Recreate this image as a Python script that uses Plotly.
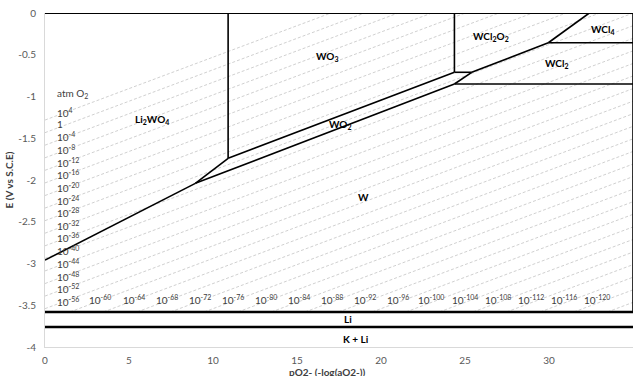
import plotly.graph_objects as go

# ---------------- data ----------------
# phase boundaries: x = pO2- , E = potential (V vs SCE)
li2wo4_w_x = [0, 8.95]
li2wo4_w_e = [-2.96, -2.04]
li2wo4_wo2_x = [8.95, 10.9]
li2wo4_wo2_e = [-2.04, -1.74]
li2wo4_wo3_x = [10.9, 10.9]
li2wo4_wo3_e = [-1.74, 0.0]
wo3_wo2_x = [10.9, 24.37]
wo3_wo2_e = [-1.74, -0.71]
wo2_w_x = [8.95, 24.37]
wo2_w_e = [-2.04, -0.85]
wo3_wcl2o2_x = [24.37, 24.37]
wo3_wcl2o2_e = [-0.71, 0.0]
wo2_wcl2_x = [24.37, 25.4]
wo2_wcl2_e = [-0.85, -0.71]
wo2_wcl2o2_x = [24.37, 25.4]
wo2_wcl2o2_e = [-0.71, -0.71]
wcl2o2_wcl2_x = [25.4, 29.96]
wcl2o2_wcl2_e = [-0.71, -0.356]
wcl2o2_wcl4_x = [29.96, 32.4]
wcl2o2_wcl4_e = [-0.356, 0.0]
wcl4_wcl2_x = [29.96, 35]
wcl4_wcl2_e = [-0.356, -0.356]
wcl2_w_x = [24.37, 35]
wcl2_w_e = [-0.85, -0.85]
top_x = [0, 35]
top_e = [0.0, 0.0]
right_x = [35, 35]
right_e = [0.0, -3.58]

li_limit_e = -3.58
kli_limit_e = -3.76
limits_x = [0, 35]

# oxygen isobars: potential at pO2- = 0 and common slope (V per pO2- unit)
isobar_e0 = [-1.282, -1.433, -1.583, -1.734, -1.884, -2.035, -2.186, -2.336,
             -2.487, -2.637, -2.788, -2.939, -3.089, -3.240, -3.390, -3.541,
             -3.692, -3.842, -3.993, -4.143, -4.294, -4.445, -4.595, -4.746,
             -4.896, -5.047, -5.198, -5.348, -5.499, -5.649, -5.800, -5.951,
             -6.101]
isobar_slope = 0.0753

left_iso_labels = ["10<sup>4</sup>", "1", "10<sup>-4</sup>", "10<sup>-8</sup>",
                   "10<sup>-12</sup>", "10<sup>-16</sup>", "10<sup>-20</sup>",
                   "10<sup>-24</sup>", "10<sup>-28</sup>", "10<sup>-32</sup>",
                   "10<sup>-36</sup>", "10<sup>-40</sup>", "10<sup>-44</sup>",
                   "10<sup>-48</sup>", "10<sup>-52</sup>", "10<sup>-56</sup>"]
left_iso_label_e = [-1.19, -1.33, -1.48, -1.64, -1.79, -1.94, -2.09, -2.24,
                    -2.39, -2.54, -2.69, -2.84, -3.00, -3.15, -3.30, -3.45]
left_iso_label_x = 0.62

bottom_iso_labels = ["10<sup>-60</sup>", "10<sup>-64</sup>", "10<sup>-68</sup>",
                     "10<sup>-72</sup>", "10<sup>-76</sup>", "10<sup>-80</sup>",
                     "10<sup>-84</sup>", "10<sup>-88</sup>", "10<sup>-92</sup>",
                     "10<sup>-96</sup>", "10<sup>-100</sup>", "10<sup>-104</sup>",
                     "10<sup>-108</sup>", "10<sup>-112</sup>", "10<sup>-116</sup>",
                     "10<sup>-120</sup>"]
bottom_iso_label_x = [3.3, 5.27, 7.24, 9.21, 11.18, 13.15, 15.12, 17.09,
                      19.06, 21.03, 23.0, 24.97, 26.94, 28.91, 30.88, 32.85]
bottom_iso_label_e = -3.43

phase_labels = ["Li<sub>2</sub>WO<sub>4</sub>", "WO<sub>3</sub>", "WO<sub>2</sub>", "W",
                "WCl<sub>2</sub>O<sub>2</sub>", "WCl<sub>4</sub>", "WCl<sub>2</sub>",
                "Li", "K + Li"]
phase_label_x = [6.38, 16.8, 17.6, 18.96, 26.56, 33.2, 30.5, 18.05, 18.5]
phase_label_e = [-1.28, -0.52, -1.33, -2.2, -0.28, -0.2, -0.6, -3.67, -3.91]

x_ticks = [0, 5, 10, 15, 20, 25, 30, 35]
y_ticks = [-4, -3.5, -3, -2.5, -2, -1.5, -1, -0.5, 0]
y_tick_text = ["-4", "-3.5", "-3", "-2.5", "-2", "-1.5", "-1", "-0.5", "0"]

# ---------------- figure ----------------
FONT = "Lato"
fig = go.Figure()

# isobars, clipped to the region above the Li deposition line
for b in isobar_e0:
    if b >= li_limit_e:
        xs, es = 0.0, b
    else:
        xs, es = (li_limit_e - b) / isobar_slope, li_limit_e
    x_top = -b / isobar_slope
    if x_top <= 35:
        xe, ee = x_top, 0.0
    else:
        xe, ee = 35.0, b + 35 * isobar_slope
    if xs >= 35:
        continue
    fig.add_trace(go.Scatter(x=[xs, xe], y=[es, ee], mode="lines",
                             line=dict(color="#c4c4c4", width=0.8, dash="3px,2px"),
                             hoverinfo="skip", showlegend=False))

boundaries = [
    (li2wo4_w_x, li2wo4_w_e), (li2wo4_wo2_x, li2wo4_wo2_e),
    (li2wo4_wo3_x, li2wo4_wo3_e), (wo3_wo2_x, wo3_wo2_e), (wo2_w_x, wo2_w_e),
    (wo3_wcl2o2_x, wo3_wcl2o2_e), (wo2_wcl2_x, wo2_wcl2_e),
    (wo2_wcl2o2_x, wo2_wcl2o2_e), (wcl2o2_wcl2_x, wcl2o2_wcl2_e),
    (wcl2o2_wcl4_x, wcl2o2_wcl4_e), (wcl4_wcl2_x, wcl4_wcl2_e),
    (wcl2_w_x, wcl2_w_e), (right_x, right_e),
]
for bx, be in boundaries:
    fig.add_trace(go.Scatter(x=bx, y=be, mode="lines",
                             line=dict(color="black", width=1.6),
                             hoverinfo="skip", showlegend=False))

fig.add_trace(go.Scatter(x=top_x, y=top_e, mode="lines",
                         line=dict(color="black", width=2.2),
                         hoverinfo="skip", showlegend=False, cliponaxis=False))
for lim in (li_limit_e, kli_limit_e):
    fig.add_trace(go.Scatter(x=limits_x, y=[lim, lim], mode="lines",
                             line=dict(color="black", width=2.6),
                             hoverinfo="skip", showlegend=False))

# isobar labels
fig.add_annotation(x=left_iso_label_x, y=-0.96, text="atm O<sub>2</sub>",
                   showarrow=False, xanchor="left", yanchor="middle",
                   font=dict(family=FONT, size=10, color="#404040"))
for t, e in zip(left_iso_labels, left_iso_label_e):
    fig.add_annotation(x=left_iso_label_x, y=e, text=t, showarrow=False,
                       xanchor="left", yanchor="middle",
                       font=dict(family=FONT, size=10, color="#404040"))
for t, xv in zip(bottom_iso_labels, bottom_iso_label_x):
    fig.add_annotation(x=xv, y=bottom_iso_label_e, text=t, showarrow=False,
                       xanchor="center", yanchor="middle",
                       font=dict(family=FONT, size=10, color="#404040"))

for t, xv, ev in zip(phase_labels, phase_label_x, phase_label_e):
    fig.add_annotation(x=xv, y=ev, text="<b>" + t + "</b>", showarrow=False,
                       xanchor="center", yanchor="middle",
                       font=dict(family=FONT, size=10, color="black"))

# axis titles
fig.add_annotation(xref="paper", yref="paper", x=-0.062, y=0.5,
                   text="<b>E (V vs S.C.E)</b>", textangle=-90, showarrow=False,
                   xanchor="center", yanchor="middle",
                   font=dict(family=FONT, size=10, color="#404040"))
fig.add_annotation(xref="paper", yref="paper", x=0.48, y=-0.052,
                   text="<b>pO2- (-log(aO2-))</b>", showarrow=False,
                   xanchor="center", yanchor="top",
                   font=dict(family=FONT, size=10, color="#404040"))

fig.update_layout(
    width=636, height=376,
    margin=dict(l=45, r=3, t=13, b=29, pad=0),
    paper_bgcolor="white", plot_bgcolor="white",
    showlegend=False,
    xaxis=dict(range=[0, 35], tickvals=x_ticks, showgrid=False, zeroline=False,
               showline=True, linecolor="#d9d9d9", linewidth=1, ticks="",
               ticklabelstandoff=4,
               tickfont=dict(family=FONT, size=10, color="#595959")),
    yaxis=dict(range=[-4, 0], tickvals=y_ticks, ticktext=y_tick_text,
               showgrid=False, zeroline=False, showline=True,
               linecolor="#d9d9d9", linewidth=1, ticks="",
               ticklabelstandoff=6,
               tickfont=dict(family=FONT, size=10, color="#595959")),
)

fig.write_html(
    "out.html",
    config={"displayModeBar": False},
    post_script="document.body.style.margin='0';document.body.style.padding='0';"
                "document.documentElement.style.overflow='hidden';",
)
